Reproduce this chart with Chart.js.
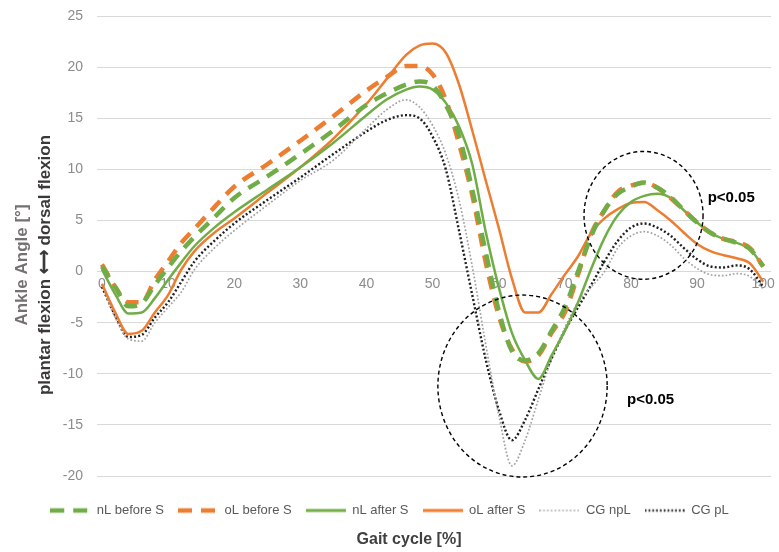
<!DOCTYPE html>
<html>
<head>
<meta charset="utf-8">
<script src="https://cdn.jsdelivr.net/npm/chart.js@4.4.1/dist/chart.umd.min.js"></script>
<style>
  html, body { margin: 0; padding: 0; background: #ffffff; }
  #wrap { width: 779px; height: 552px; position: relative; }
</style>
</head>
<body>
<div id="wrap"><canvas id="c" width="779" height="552"></canvas></div>
<script>
// Gait cycle positions [%]
const gait = [0, 2, 4, 6, 8, 10, 12, 14, 17, 20, 25, 30, 35, 40, 43, 46, 48, 50, 52, 54, 56, 58, 60, 62, 64, 66, 68, 70, 72, 74, 76, 78, 80, 82, 84, 86, 88, 90, 92, 94, 96, 98, 100];

// Ankle angle [°] per series
const nLbeforeS = [0.5, -1.5, -3.4, -3.1, -1.3, 0.4, 2.0, 3.4, 5.3, 7.2, 9.3, 11.5, 13.8, 16.3, 17.4, 18.3, 18.6, 18.2, 16.3, 13.3, 8.0, 2.0, -3.8, -7.8, -8.7, -8.0, -5.8, -3.5, 0.0, 3.5, 6.0, 7.6, 8.3, 8.7, 8.2, 7.3, 6.0, 4.8, 3.8, 3.2, 2.8, 2.2, 0.5];
const oLbeforeS = [0.7, -1.5, -3.0, -3.0, -0.8, 1.0, 2.8, 4.2, 6.3, 8.3, 10.5, 12.8, 15.2, 17.7, 19.0, 20.1, 20.1, 19.3, 16.8, 12.5, 7.5, 1.0, -4.3, -7.6, -8.8, -8.2, -6.0, -4.0, -0.3, 3.7, 6.0, 7.8, 8.4, 8.7, 8.2, 7.2, 6.0, 4.8, 3.8, 3.2, 2.9, 2.3, 0.5];
const nLafterS  = [0.2, -2.2, -4.1, -4.0, -2.6, -0.8, 0.9, 2.5, 4.3, 5.8, 8.0, 10.2, 12.6, 15.3, 16.8, 17.8, 18.1, 17.8, 16.5, 14.2, 10.5, 4.0, -1.5, -6.0, -8.7, -10.5, -8.2, -5.8, -3.0, 0.3, 3.3, 5.5, 6.8, 7.4, 7.6, 7.2, 6.0, 4.8, 3.8, 3.2, 2.8, 2.2, 0.5];
const oLafterS  = [-1.2, -4.0, -6.1, -5.8, -4.0, -2.3, 0.2, 2.0, 3.8, 5.2, 7.7, 10.2, 13.0, 16.4, 18.8, 21.2, 22.1, 22.3, 21.4, 18.3, 13.8, 9.0, 4.3, -0.7, -4.0, -4.0, -2.2, -0.3, 1.5, 3.8, 5.2, 6.1, 6.7, 6.8, 6.0, 5.0, 3.8, 2.7, 2.0, 1.6, 1.3, 0.8, -1.0];
const cgNpL     = [-1.3, -4.5, -6.6, -6.8, -5.0, -3.5, -2.0, 0.2, 2.3, 4.0, 6.5, 8.9, 10.9, 14.0, 15.8, 16.8, 16.1, 14.3, 11.5, 7.0, 0.5, -7.0, -14.0, -19.0, -16.5, -12.5, -8.5, -5.5, -3.0, -1.5, 0.0, 2.3, 3.5, 3.9, 3.5, 2.6, 1.3, 0.3, -0.3, -0.4, -0.2, -0.5, -1.7];
const cgPL      = [-1.5, -4.3, -6.4, -6.2, -4.5, -3.0, -1.0, 1.0, 3.0, 4.7, 7.0, 9.2, 11.5, 13.7, 14.8, 15.3, 15.0, 13.2, 10.0, 4.0, -2.3, -8.5, -13.5, -16.5, -14.5, -11.5, -8.5, -5.8, -3.5, -1.3, 1.0, 3.0, 4.3, 4.7, 4.3, 3.5, 2.3, 1.2, 0.5, 0.4, 0.6, 0.2, -1.5];

const seriesNames = ['nL before S', 'oL before S', 'nL after S', 'oL after S', 'CG npL', 'CG pL'];
const xTicks = [0, 10, 20, 30, 40, 50, 60, 70, 80, 90, 100];
const yTitleLines = ['Ankle Angle [°]', 'plantar flexion ⟷ dorsal flexion'];
const xTitle = 'Gait cycle [%]';

// Significance annotations (data units)
const circles = [
  { cx: 81.9, cy: 5.5, rx: 9.0, ry: 6.25 },
  { cx: 63.6, cy: -11.2, rx: 12.8, ry: 8.9 }
];
const pLabels = [
  { x: 91.6, y: 7.2, text: 'p<0.05' },
  { x: 79.4, y: -12.6, text: 'p<0.05' }
];

const GREEN = '#70AD47', ORANGE = '#ED7D31';
const toPts = arr => gait.map((x, i) => ({ x: x, y: arr[i] }));

const base = { pointRadius: 0, pointHoverRadius: 0, fill: false, cubicInterpolationMode: 'monotone' };

const datasets = [
  Object.assign({}, base, { label: seriesNames[0], data: toPts(nLbeforeS), borderColor: GREEN, backgroundColor: GREEN, borderWidth: 4.5, borderDash: [13, 9] }),
  Object.assign({}, base, { label: seriesNames[1], data: toPts(oLbeforeS), borderColor: ORANGE, backgroundColor: ORANGE, borderWidth: 4.5, borderDash: [13, 9] }),
  Object.assign({}, base, { label: seriesNames[2], data: toPts(nLafterS), borderColor: GREEN, backgroundColor: GREEN, borderWidth: 2.5 }),
  Object.assign({}, base, { label: seriesNames[3], data: toPts(oLafterS), borderColor: ORANGE, backgroundColor: ORANGE, borderWidth: 2.5 }),
  Object.assign({}, base, { label: seriesNames[4], data: toPts(cgNpL), borderColor: '#A0A0A0', backgroundColor: '#A0A0A0', borderWidth: 1.7, borderDash: [1.7, 2] }),
  Object.assign({}, base, { label: seriesNames[5], data: toPts(cgPL), borderColor: '#1f1f1f', backgroundColor: '#1f1f1f', borderWidth: 2.4, borderDash: [2, 2.2] })
];

// Legend sample icons, drawn with each dataset's own line style
const ICON_W = 40;
const legendIcons = datasets.map(ds => {
  const cv = document.createElement('canvas');
  cv.width = ICON_W; cv.height = 8;
  const g = cv.getContext('2d');
  g.strokeStyle = ds.borderColor;
  g.lineWidth = ds.borderWidth === 4.5 ? 4.5 : (ds.borderDash ? ds.borderWidth : 3);
  g.setLineDash(ds.borderDash ? (ds.borderWidth === 4.5 ? [14, 9] : [1.6, 2.2]) : []);
  g.beginPath(); g.moveTo(0, 4); g.lineTo(ICON_W, 4); g.stroke();
  return cv;
});

const annotate = {
  id: 'annotate',
  afterDatasetsDraw(chart) {
    const ctx = chart.ctx, X = chart.scales.x, Y = chart.scales.y;
    ctx.save();
    ctx.strokeStyle = '#000000';
    ctx.lineWidth = 1.4;
    ctx.setLineDash([4, 3]);
    circles.forEach(c => {
      const px = X.getPixelForValue(c.cx), py = Y.getPixelForValue(c.cy);
      const rx = Math.abs(X.getPixelForValue(c.cx + c.rx) - px);
      const ry = Math.abs(Y.getPixelForValue(c.cy + c.ry) - py);
      ctx.beginPath();
      ctx.ellipse(px, py, rx, ry, 0, 0, Math.PI * 2);
      ctx.stroke();
    });
    ctx.setLineDash([]);
    ctx.fillStyle = '#000000';
    ctx.font = 'bold 15px "Liberation Sans", Arial, sans-serif';
    ctx.textAlign = 'left';
    ctx.textBaseline = 'middle';
    pLabels.forEach(l => {
      ctx.fillText(l.text, X.getPixelForValue(l.x), Y.getPixelForValue(l.y));
    });
    ctx.restore();
  },
  afterDraw(chart) {
    const ctx = chart.ctx;
    ctx.save();
    ctx.textAlign = 'center';
    ctx.textBaseline = 'middle';
    // y-axis titles (two lines, rotated)
    const cy = 265;
    ctx.font = 'bold 17px "Liberation Sans", Arial, sans-serif';
    ctx.fillStyle = '#767171';
    ctx.translate(22, cy); ctx.rotate(-Math.PI / 2);
    ctx.fillText(yTitleLines[0], 0, 0);
    ctx.fillStyle = '#3b3838';
    ctx.fillText(yTitleLines[1], 0, 23);
    ctx.restore();
    // x-axis title
    ctx.save();
    ctx.textAlign = 'center';
    ctx.textBaseline = 'middle';
    ctx.font = 'bold 16px "Liberation Sans", Arial, sans-serif';
    ctx.fillStyle = '#404040';
    ctx.fillText(xTitle, 409, 540);
    ctx.restore();
  }
};

const tickFont = '"Liberation Sans", Arial, sans-serif';

new Chart(document.getElementById('c'), {
  type: 'line',
  data: { datasets: datasets },
  plugins: [annotate],
  options: {
    responsive: false,
    animation: false,
    events: [],
    layout: { padding: { left: 0, right: 0, top: 16, bottom: 25 } },
    scales: {
      x: {
        type: 'linear',
        position: { y: 0 },
        min: -0.75,
        max: 101.2,
        afterBuildTicks: (scale) => { scale.ticks = xTicks.map(v => ({ value: v })); },
        grid: { display: false, drawTicks: false },
        border: { display: false },
        ticks: { color: '#8c8c8c', font: { family: tickFont, size: 14 }, padding: 4, maxRotation: 0, autoSkip: false }
      },
      x2: {
        type: 'linear',
        position: 'bottom',
        display: true,
        grid: { display: false, drawTicks: false },
        border: { display: false },
        ticks: { display: false },
        afterFit: (s) => { s.height = 14; }
      },
      y: {
        type: 'linear',
        min: -20,
        max: 25,
        ticks: { stepSize: 5, color: '#8c8c8c', font: { family: tickFont, size: 14 }, padding: 14 },
        grid: { color: '#d9d9d9', lineWidth: 1, drawTicks: false },
        border: { display: false },
        afterFit: (s) => { s.width = 97; s.paddingTop = 0; s.paddingBottom = 0; }
      }
    },
    plugins: {
      legend: {
        position: 'bottom',
        labels: {
          usePointStyle: true,
          pointStyleWidth: ICON_W,
          boxWidth: ICON_W,
          boxHeight: 10,
          color: '#595959',
          font: { family: tickFont, size: 13 },
          padding: 14,
          generateLabels: (chart) => {
            const items = Chart.defaults.plugins.legend.labels.generateLabels(chart);
            items.forEach((it) => { it.pointStyle = legendIcons[it.datasetIndex]; });
            return items;
          }
        }
      },
      title: { display: false },
      tooltip: { enabled: false }
    }
  }
});
</script>
</body>
</html>
